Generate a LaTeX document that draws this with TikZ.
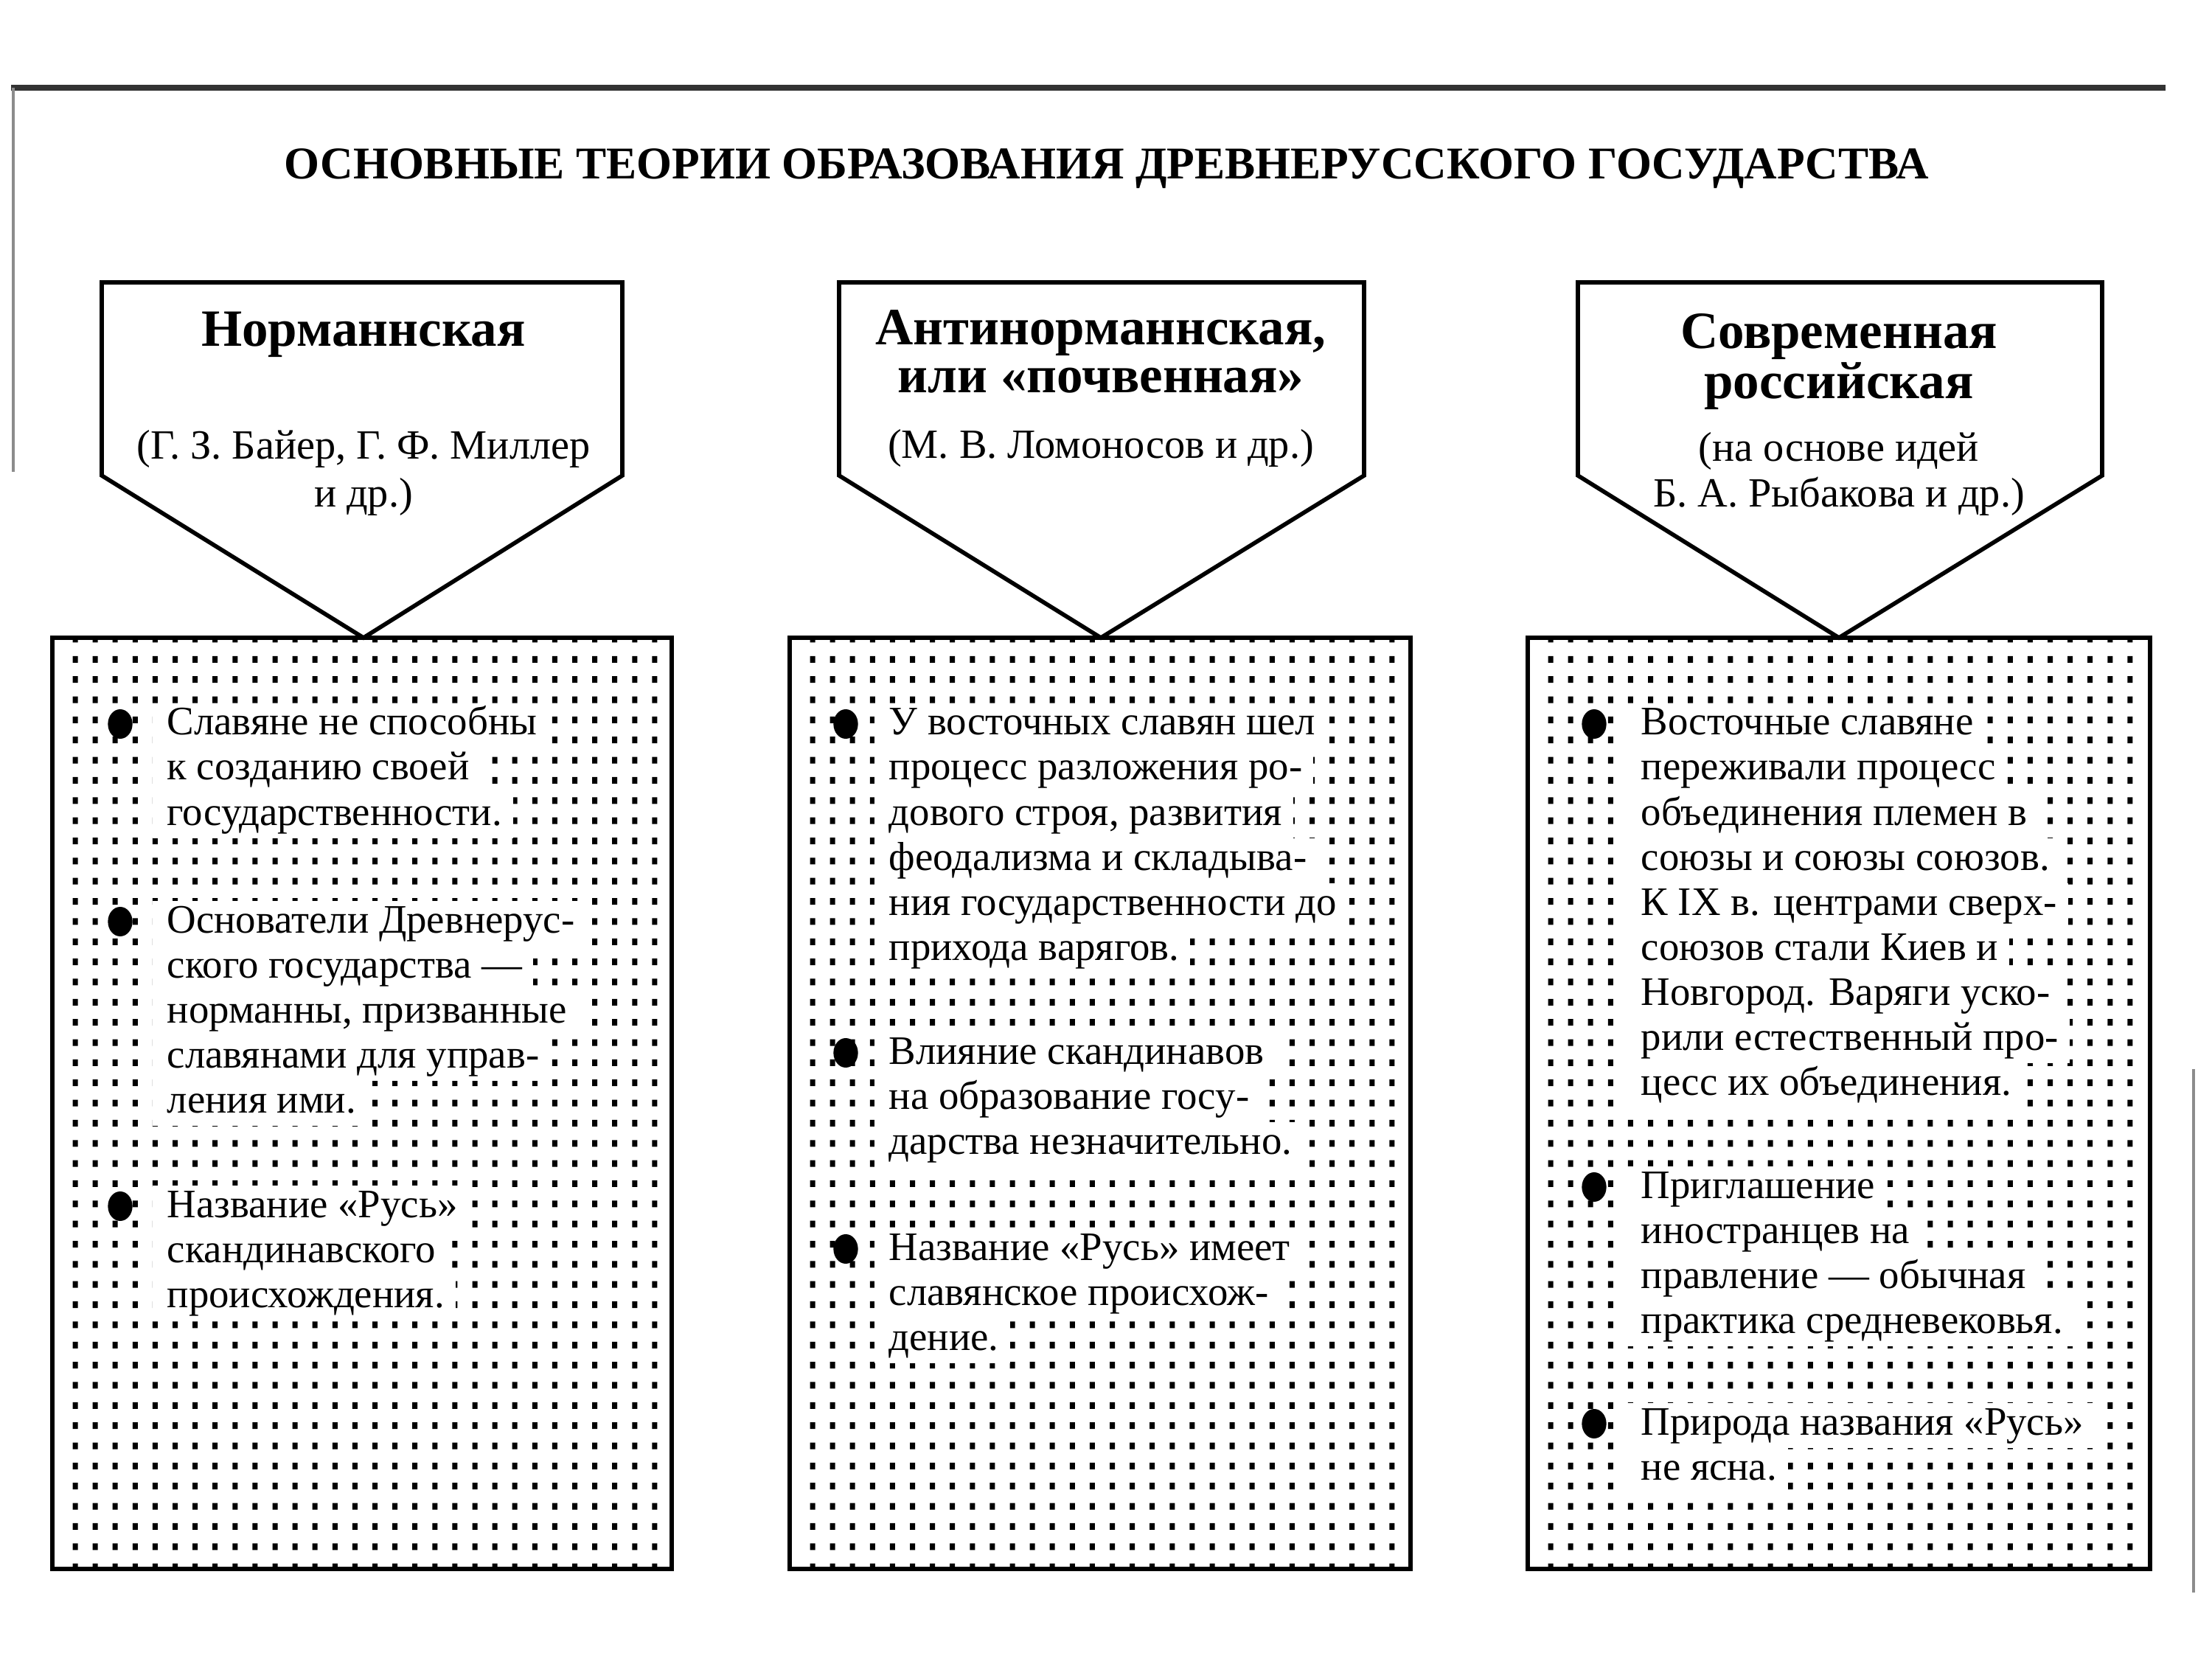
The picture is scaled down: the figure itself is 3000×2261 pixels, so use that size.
\documentclass[tikz,border=0pt]{standalone}
\usepackage{fontspec}
\setmainfont{Liberation Serif}
\usetikzlibrary{shapes.geometric}
\newcommand\bodyfont{\fontsize{16.45pt}{18.3pt}\selectfont}
\newcommand\subfont{\fontsize{16.9pt}{18.3pt}\selectfont}
\newcommand\headfont{\fontsize{21.3pt}{22pt}\selectfont\bfseries}
\newcommand\titlefont{\fontsize{18.5pt}{20pt}\selectfont\bfseries}
\tikzset{
  frame/.style={line width=1.8pt, draw=black},
  penta/.style={line width=1.7pt, draw=black, fill=white, line join=miter},
  tline/.style={anchor=base west, fill=white, inner sep=0pt, text height=12.9pt, text depth=5.4pt, font=\bodyfont},
  bul/.style={ellipse, fill=black, inner sep=0pt, minimum width=10pt, minimum height=12pt},
  head/.style={anchor=base, inner sep=0pt, font=\headfont},
  sub/.style={anchor=base, inner sep=0pt, font=\subfont},
  scan/.style={line width=1.2pt, draw=black!45}
}
\newcommand\tl[4]{\node[tline] (#1) at (#2,#3) {\hspace*{6pt}#4\hspace*{4.5pt}};}
\begin{document}
\begin{tikzpicture}[x=0.3pt, y=-0.3pt]
\useasboundingbox (0,0) rectangle (3000,2261);
% scan edges
\draw[line width=2.2pt, draw=black!80] (15,119) -- (2937,119);
\draw[scan] (18,119) -- (18,640);
\draw[scan] (2975,1450) -- (2975,2160);
% title
\node[anchor=base, inner sep=0pt, font=\titlefont] (title) at (1501,243) {ОСНОВНЫЕ ТЕОРИИ ОБРАЗОВАНИЯ ДРЕВНЕРУССКОГО ГОСУДАРСТВА};
% dotted boxes
\foreach \bx in {102,1102,2103} {
  \fill[black] \foreach \i in {0,...,29} { \foreach \j in {0,...,46} { ({\bx+\i*27.1-3.5},{867+\j*27.35-4.5}) rectangle ++(7,9) } };
}
\draw[frame] (71,865) rectangle (911,2128);
\draw[frame] (1071,865) rectangle (1913,2128);
\draw[frame] (2072,865) rectangle (2916,2128);
% pentagons
\draw[penta] (138,383) -- (844,383) -- (844,645) -- (493,865) -- (138,645) -- cycle;
\draw[penta] (1138,383) -- (1850,383) -- (1850,645) -- (1493,865) -- (1138,645) -- cycle;
\draw[penta] (2140,383) -- (2851,383) -- (2851,645) -- (2494,865) -- (2140,645) -- cycle;
% headers
\node[head] (h1) at (493,470) {Норманнская};
\node[sub] (s1a) at (493,623) {(Г. З. Байер, Г. Ф. Миллер};
\node[sub] (s1b) at (493,688) {и др.)};
\node[head] (h2a) at (1493,468) {Антинорманнская,};
\node[head] (h2b) at (1493,533) {или «почвенная»};
\node[sub] (s2a) at (1493,622) {(М. В. Ломоносов и др.)};
\node[head] (h3a) at (2494,473) {Современная};
\node[head] (h3b) at (2494,541) {российская};
\node[sub] (s3a) at (2494,626) {(на основе идей};
\node[sub] (s3b) at (2494,688) {Б. А. Рыбакова и др.)};
% left box text
\tl{la1}{206}{997}{Славяне не способны}
\tl{la2}{206}{1058}{к созданию своей}
\tl{la3}{206}{1119}{государственности.}
\tl{lb1}{206}{1265}{Основатели Древнерус-}
\tl{lb2}{206}{1326}{ского государства —}
\tl{lb3}{206}{1387}{норманны, призванные}
\tl{lb4}{206}{1448}{славянами для управ-}
\tl{lb5}{206}{1509}{ления ими.}
\tl{lc1}{206}{1651}{Название «Русь»}
\tl{lc2}{206}{1712}{скандинавского}
\tl{lc3}{206}{1773}{происхождения.}
% middle box text
\tl{ma1}{1185}{997}{У восточных славян шел}
\tl{ma2}{1185}{1058}{процесс разложения ро-}
\tl{ma3}{1185}{1119}{дового строя, развития}
\tl{ma4}{1185}{1180}{феодализма и складыва-}
\tl{ma5}{1185}{1241}{ния государственности до}
\tl{ma6}{1185}{1302}{прихода варягов.}
\tl{mb1}{1185}{1443}{Влияние скандинавов}
\tl{mb2}{1185}{1504}{на образование госу-}
\tl{mb3}{1185}{1565}{дарства незначительно.}
\tl{mc1}{1185}{1709}{Название «Русь» имеет}
\tl{mc2}{1185}{1770}{славянское происхож-}
\tl{mc3}{1185}{1831}{дение.}
% right box text
\tl{ra1}{2205}{997}{Восточные славяне}
\tl{ra2}{2205}{1058}{переживали процесс}
\tl{ra3}{2205}{1119}{объединения племен в}
\tl{ra4}{2205}{1180}{союзы и союзы союзов.}
\tl{ra5}{2205}{1241}{К IX в. центрами сверх-}
\tl{ra6}{2205}{1302}{союзов стали Киев и}
\tl{ra7}{2205}{1363}{Новгород. Варяги уско-}
\tl{ra8}{2205}{1424}{рили естественный про-}
\tl{ra9}{2205}{1485}{цесс их объединения.}
\tl{rb1}{2205}{1625}{Приглашение}
\tl{rb2}{2205}{1686}{иностранцев на}
\tl{rb3}{2205}{1747}{правление — обычная}
\tl{rb4}{2205}{1808}{практика средневековья.}
\tl{rc1}{2205}{1946}{Природа названия «Русь»}
\tl{rc2}{2205}{2007}{не ясна.}
% bullets
\node[bul] (bl1) at (163,982) {};
\node[bul] (bl2) at (163,1250) {};
\node[bul] (bl3) at (163,1636) {};
\node[bul] (bm1) at (1147,982) {};
\node[bul] (bm2) at (1147,1428) {};
\node[bul] (bm3) at (1147,1694) {};
\node[bul] (br1) at (2162,982) {};
\node[bul] (br2) at (2162,1610) {};
\node[bul] (br3) at (2162,1931) {};
\end{tikzpicture}
\end{document}
